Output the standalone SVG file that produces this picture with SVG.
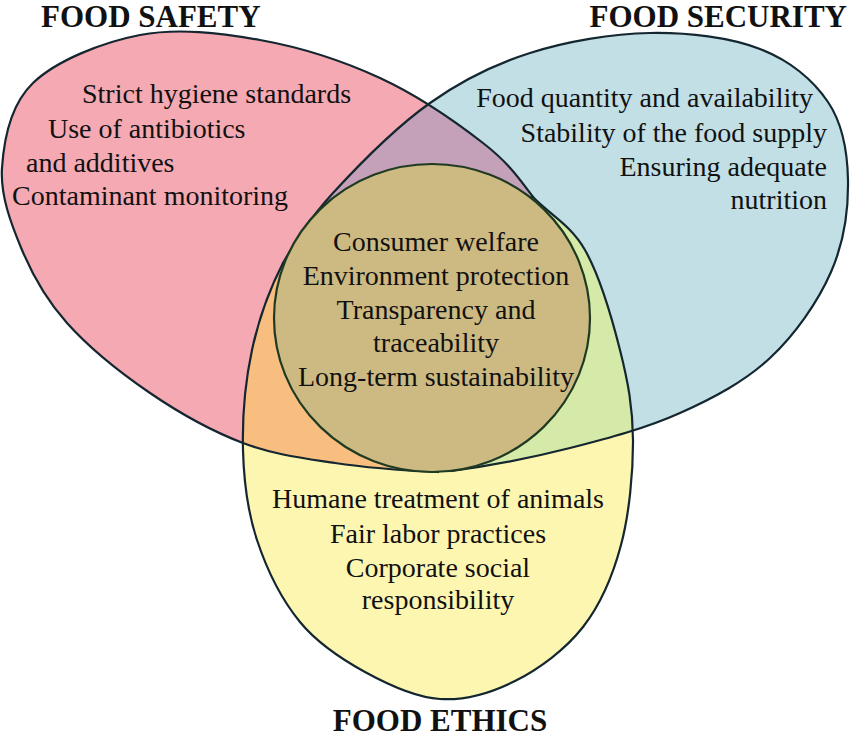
<svg xmlns="http://www.w3.org/2000/svg" xmlns:xlink="http://www.w3.org/1999/xlink" width="850" height="737" viewBox="0 0 850 737">
<style>
text{font-family:'Liberation Serif',serif;fill:#111}
.lbl{font-size:28px;font-weight:normal}
.ttl{font-size:31px;font-weight:bold}
.edge{fill:none;stroke:#14262f;stroke-width:2.2}
</style>
<defs>
<path id="pinkP" d="M438,472 C405,470.5 367.8,468 335,463 C302.2,458 273.8,454.7 243,443 C212.2,431.3 179.3,413 150,393 C120.7,373 88.3,346.8 67,323 C45.7,299.2 32.8,275.8 22,250 C11.2,224.2 0.2,195.8 2,168 C3.8,140.2 10,105.2 33,83 C56,60.8 102.2,42.2 140,35 C177.8,27.8 220,32.8 260,40 C300,47.2 342.8,60.8 380,78 C417.2,95.2 457.5,123.2 483,143 C508.5,162.8 518.5,177.5 533,197 Z"/>
<path id="blueP" d="M283,263 C294.3,243.5 308.5,219.7 333,193 C357.5,166.3 397.2,126.3 430,103 C462.8,79.7 493.3,64.7 530,53 C566.7,41.3 611.7,33.7 650,33 C688.3,32.3 730.3,37.5 760,49 C789.7,60.5 813.3,80.2 828,102 C842.7,123.8 847.5,151.7 848,180 C848.5,208.3 844,242.3 831,272 C818,301.7 795.2,334.5 770,358 C744.8,381.5 713.3,398 680,413 C646.7,428 608,438.3 570,448 C532,457.7 490.3,465.7 452,471 Z"/>
<path id="yellowP" d="M533,197 C550,214.8 570.5,224.5 585,250 C599.5,275.5 612,318.3 620,350 C628,381.7 632.8,407.5 633,440 C633.2,472.5 629.3,513.8 621,545 C612.7,576.2 600.7,604.3 583,627 C565.3,649.7 538.8,669 515,681 C491.2,693 465,700.5 440,699 C415,697.5 388.3,684.8 365,672 C341.7,659.2 318,644 300,622 C282,600 266.5,568.7 257,540 C247.5,511.3 243.8,481.7 243,450 C242.2,418.3 245.3,381.2 252,350 C258.7,318.8 269.5,289.2 283,263 Z"/>
<clipPath id="clipBlue"><use xlink:href="#blueP"/></clipPath>
<clipPath id="clipYellow"><use xlink:href="#yellowP"/></clipPath>
</defs>

<g id="safety"><use xlink:href="#pinkP" fill="#F5A9B3"/></g>
<g id="security"><use xlink:href="#blueP" fill="#C2DFE6"/></g>
<g id="ethics"><use xlink:href="#yellowP" fill="#FDF6B1"/></g>

<g id="overlaps">
<use xlink:href="#pinkP" fill="#C4A1B9" clip-path="url(#clipBlue)"/>
<use xlink:href="#pinkP" fill="#F7BE80" clip-path="url(#clipYellow)"/>
<use xlink:href="#blueP" fill="#D5E9A8" clip-path="url(#clipYellow)"/>
</g>

<g id="outlines">
<use xlink:href="#pinkP" class="edge"/>
<use xlink:href="#blueP" class="edge"/>
<use xlink:href="#yellowP" class="edge"/>
</g>

<g id="core" font-family="Liberation Serif">
<ellipse cx="432" cy="318" rx="158" ry="154" fill="#CDBA82" stroke="#1E3B22" stroke-width="2.2"/>
<text class="lbl" text-anchor="middle" x="436" y="251">Consumer welfare</text>
<text class="lbl" text-anchor="middle" x="436" y="285">Environment protection</text>
<text class="lbl" text-anchor="middle" x="436" y="319">Transparency and</text>
<text class="lbl" text-anchor="middle" x="436" y="352">traceability</text>
<text class="lbl" text-anchor="middle" x="436" y="386">Long-term sustainability</text>
</g>

<g id="safety-text" font-family="Liberation Serif">
<text class="ttl" x="41" y="27">FOOD SAFETY</text>
<text class="lbl" x="82" y="103">Strict hygiene standards</text>
<text class="lbl" x="48" y="138">Use of antibiotics</text>
<text class="lbl" x="26" y="172">and additives</text>
<text class="lbl" x="12" y="205">Contaminant monitoring</text>
</g>

<g id="security-text" font-family="Liberation Serif">
<text class="ttl" text-anchor="end" x="847" y="27">FOOD SECURITY</text>
<text class="lbl" text-anchor="end" x="813" y="107">Food quantity and availability</text>
<text class="lbl" text-anchor="end" x="827" y="142">Stability of the food supply</text>
<text class="lbl" text-anchor="end" x="827" y="176">Ensuring adequate</text>
<text class="lbl" text-anchor="end" x="827" y="209">nutrition</text>
</g>

<g id="ethics-text" font-family="Liberation Serif">
<text class="lbl" text-anchor="middle" x="438" y="508">Humane treatment of animals</text>
<text class="lbl" text-anchor="middle" x="438" y="543">Fair labor practices</text>
<text class="lbl" text-anchor="middle" x="438" y="577">Corporate social</text>
<text class="lbl" text-anchor="middle" x="438" y="609">responsibility</text>
<text class="ttl" text-anchor="middle" x="440" y="731">FOOD ETHICS</text>
</g>
</svg>
